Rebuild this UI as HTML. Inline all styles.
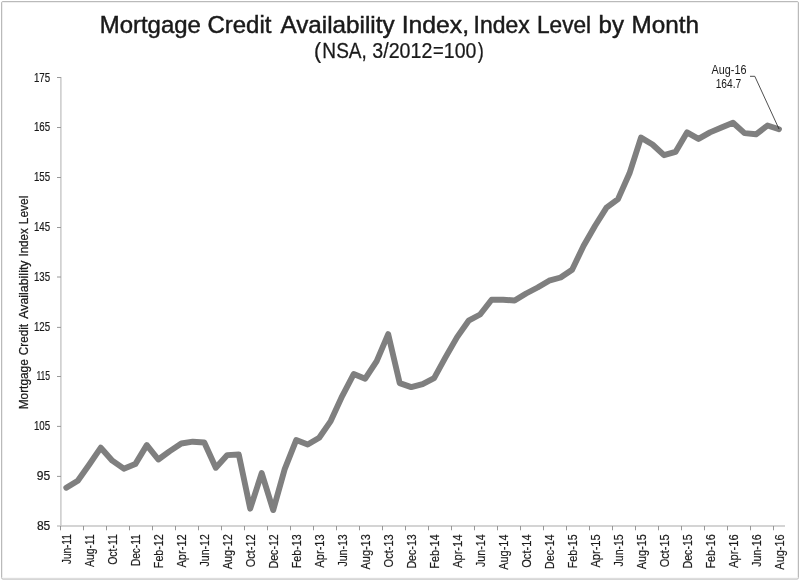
<!DOCTYPE html>
<html><head><meta charset="utf-8"><title>Mortgage Credit Availability Index</title>
<style>
html,body{margin:0;padding:0;background:#fff;}
svg{display:block;font-family:"Liberation Sans",sans-serif;}
</style></head><body>
<svg width="800" height="581" viewBox="0 0 800 581">
<rect x="0" y="0" width="800" height="581" fill="#fff"/>
<rect x="2.5" y="2.5" width="795" height="575.6" rx="1" fill="none" stroke="#efefef" stroke-width="1"/>
<rect x="1.5" y="1.5" width="797" height="577.6" rx="1.5" fill="none" stroke="#bababa" stroke-width="1"/>

<g font-size="23.7" fill="#1a1a1a" stroke="#1a1a1a" stroke-width="0.45">
<text transform="translate(99.68,32.5) scale(1.0118,1)">Mortgage</text>
<text transform="translate(207.40,32.5) scale(1.0134,1)">Credit</text>
<text transform="translate(280.50,32.5) scale(1.0239,1)">Availability</text>
<text transform="translate(401.67,32.5) scale(1.0440,1)">Index,</text>
<text transform="translate(473.54,32.5) scale(0.9675,1)">Index</text>
<text transform="translate(536.94,32.5) scale(0.9561,1)">Level</text>
<text transform="translate(598.55,32.5) scale(1.0166,1)">by</text>
<text transform="translate(631.46,32.5) scale(1.0252,1)">Month</text>
</g>
<g font-size="21.2" fill="#1a1a1a" stroke="#1a1a1a" stroke-width="0.25"><text transform="translate(314.01,58.0) scale(1.0133,1)">(</text><text transform="translate(322.37,58.0) scale(0.8993,1)">NSA,</text> <text transform="translate(372.31,58.0) scale(0.9268,1)">3/2012</text><text transform="translate(433.07,58.0) scale(0.8664,1)">=</text><text transform="translate(443.84,58.0) scale(0.9208,1)">100</text><text transform="translate(477.71,58.0) scale(0.8560,1)">)</text></g>
<g stroke="#c6c6c6" stroke-width="1.4" fill="none">
<line x1="60.9" y1="77" x2="60.9" y2="526.7"/>
<line x1="57" y1="526.0" x2="785.0" y2="526.0"/>
</g>
<g stroke="#8c8c8c" stroke-width="0.9" fill="none">
<line x1="57" y1="77.50" x2="60.9" y2="77.50"/>
<line x1="57" y1="127.50" x2="60.9" y2="127.50"/>
<line x1="57" y1="177.50" x2="60.9" y2="177.50"/>
<line x1="57" y1="227.50" x2="60.9" y2="227.50"/>
<line x1="57" y1="277.00" x2="60.9" y2="277.00"/>
<line x1="57" y1="327.40" x2="60.9" y2="327.40"/>
<line x1="57" y1="376.50" x2="60.9" y2="376.50"/>
<line x1="57" y1="426.40" x2="60.9" y2="426.40"/>
<line x1="57" y1="476.40" x2="60.9" y2="476.40"/>
<line x1="60.50" y1="526.0" x2="60.50" y2="530.3"/>
<line x1="83.50" y1="526.0" x2="83.50" y2="530.3"/>
<line x1="106.50" y1="526.0" x2="106.50" y2="530.3"/>
<line x1="129.50" y1="526.0" x2="129.50" y2="530.3"/>
<line x1="152.50" y1="526.0" x2="152.50" y2="530.3"/>
<line x1="175.50" y1="526.0" x2="175.50" y2="530.3"/>
<line x1="198.50" y1="526.0" x2="198.50" y2="530.3"/>
<line x1="221.50" y1="526.0" x2="221.50" y2="530.3"/>
<line x1="244.50" y1="526.0" x2="244.50" y2="530.3"/>
<line x1="267.50" y1="526.0" x2="267.50" y2="530.3"/>
<line x1="290.50" y1="526.0" x2="290.50" y2="530.3"/>
<line x1="313.50" y1="526.0" x2="313.50" y2="530.3"/>
<line x1="336.50" y1="526.0" x2="336.50" y2="530.3"/>
<line x1="359.50" y1="526.0" x2="359.50" y2="530.3"/>
<line x1="382.50" y1="526.0" x2="382.50" y2="530.3"/>
<line x1="405.50" y1="526.0" x2="405.50" y2="530.3"/>
<line x1="428.50" y1="526.0" x2="428.50" y2="530.3"/>
<line x1="451.50" y1="526.0" x2="451.50" y2="530.3"/>
<line x1="474.50" y1="526.0" x2="474.50" y2="530.3"/>
<line x1="497.50" y1="526.0" x2="497.50" y2="530.3"/>
<line x1="520.50" y1="526.0" x2="520.50" y2="530.3"/>
<line x1="543.50" y1="526.0" x2="543.50" y2="530.3"/>
<line x1="566.50" y1="526.0" x2="566.50" y2="530.3"/>
<line x1="589.50" y1="526.0" x2="589.50" y2="530.3"/>
<line x1="612.50" y1="526.0" x2="612.50" y2="530.3"/>
<line x1="635.50" y1="526.0" x2="635.50" y2="530.3"/>
<line x1="658.50" y1="526.0" x2="658.50" y2="530.3"/>
<line x1="681.50" y1="526.0" x2="681.50" y2="530.3"/>
<line x1="704.50" y1="526.0" x2="704.50" y2="530.3"/>
<line x1="727.50" y1="526.0" x2="727.50" y2="530.3"/>
<line x1="750.50" y1="526.0" x2="750.50" y2="530.3"/>
<line x1="773.50" y1="526.0" x2="773.50" y2="530.3"/>
</g>
<g font-size="12.5" fill="#1a1a1a" stroke="#1a1a1a" stroke-width="0.2">
<text transform="translate(33.97,81.50) scale(0.7782,1)">175</text>
<text transform="translate(33.97,131.30) scale(0.7782,1)">165</text>
<text transform="translate(33.97,181.10) scale(0.7782,1)">155</text>
<text transform="translate(33.97,230.90) scale(0.7782,1)">145</text>
<text transform="translate(33.97,280.70) scale(0.7782,1)">135</text>
<text transform="translate(33.97,330.50) scale(0.7782,1)">125</text>
<text transform="translate(36.46,380.30) scale(0.6874,1)">115</text>
<text transform="translate(33.97,430.10) scale(0.7782,1)">105</text>
<text transform="translate(36.86,479.90) scale(0.9667,1)">95</text>
<text transform="translate(36.92,529.70) scale(0.9620,1)">85</text>
</g>
<g font-size="12.5" fill="#1a1a1a" stroke="#1a1a1a" stroke-width="0.25" transform="translate(27.6,408.5) rotate(-90)">
<text transform="translate(-0.75,0) scale(0.9475,1)">Mortgage</text>
<text transform="translate(53.37,0) scale(0.9347,1)">Credit</text>
<text transform="translate(89.70,0) scale(0.9928,1)">Availability</text>
<text transform="translate(151.96,0) scale(0.9240,1)">Index</text>
<text transform="translate(184.24,0) scale(0.9571,1)">Level</text>
</g>
<g font-size="12.5" fill="#1a1a1a" stroke="#1a1a1a" stroke-width="0.2">
<text transform="translate(70.95,563.90) rotate(-90) translate(-0.15,0) scale(0.7994,1)">Jun-11</text>
<text transform="translate(93.93,566.90) rotate(-90) translate(0.00,0) scale(0.8298,1)">Aug-11</text>
<text transform="translate(116.92,564.40) rotate(-90) translate(-0.47,0) scale(0.8379,1)">Oct-11</text>
<text transform="translate(139.91,565.20) rotate(-90) translate(-0.81,0) scale(0.8071,1)">Dec-11</text>
<text transform="translate(162.90,567.30) rotate(-90) translate(-0.86,0) scale(0.8572,1)">Feb-12</text>
<text transform="translate(185.88,567.60) rotate(-90) translate(0.00,0) scale(0.8906,1)">Apr-12</text>
<text transform="translate(208.87,566.30) rotate(-90) translate(-0.16,0) scale(0.8437,1)">Jun-12</text>
<text transform="translate(231.86,569.30) rotate(-90) translate(0.00,0) scale(0.8709,1)">Aug-12</text>
<text transform="translate(254.85,566.80) rotate(-90) translate(-0.50,0) scale(0.8825,1)">Oct-12</text>
<text transform="translate(277.83,567.60) rotate(-90) translate(-0.85,0) scale(0.8497,1)">Dec-12</text>
<text transform="translate(300.82,567.40) rotate(-90) translate(-0.86,0) scale(0.8585,1)">Feb-13</text>
<text transform="translate(323.81,567.70) rotate(-90) translate(0.00,0) scale(0.8918,1)">Apr-13</text>
<text transform="translate(346.79,566.40) rotate(-90) translate(-0.16,0) scale(0.8449,1)">Jun-13</text>
<text transform="translate(369.78,569.40) rotate(-90) translate(0.00,0) scale(0.8720,1)">Aug-13</text>
<text transform="translate(392.77,566.90) rotate(-90) translate(-0.50,0) scale(0.8838,1)">Oct-13</text>
<text transform="translate(415.76,567.70) rotate(-90) translate(-0.85,0) scale(0.8509,1)">Dec-13</text>
<text transform="translate(438.74,567.80) rotate(-90) translate(-0.86,0) scale(0.8647,1)">Feb-14</text>
<text transform="translate(461.73,568.10) rotate(-90) translate(0.00,0) scale(0.8981,1)">Apr-14</text>
<text transform="translate(484.72,566.80) rotate(-90) translate(-0.16,0) scale(0.8513,1)">Jun-14</text>
<text transform="translate(507.71,569.80) rotate(-90) translate(0.00,0) scale(0.8779,1)">Aug-14</text>
<text transform="translate(530.69,567.30) rotate(-90) translate(-0.50,0) scale(0.8902,1)">Oct-14</text>
<text transform="translate(553.68,568.10) rotate(-90) translate(-0.86,0) scale(0.8571,1)">Dec-14</text>
<text transform="translate(576.67,567.30) rotate(-90) translate(-0.86,0) scale(0.8558,1)">Feb-15</text>
<text transform="translate(599.65,567.60) rotate(-90) translate(0.00,0) scale(0.8891,1)">Apr-15</text>
<text transform="translate(622.64,566.30) rotate(-90) translate(-0.16,0) scale(0.8423,1)">Jun-15</text>
<text transform="translate(645.63,569.30) rotate(-90) translate(0.00,0) scale(0.8695,1)">Aug-15</text>
<text transform="translate(668.62,566.80) rotate(-90) translate(-0.50,0) scale(0.8810,1)">Oct-15</text>
<text transform="translate(691.60,567.60) rotate(-90) translate(-0.85,0) scale(0.8484,1)">Dec-15</text>
<text transform="translate(714.59,567.70) rotate(-90) translate(-0.87,0) scale(0.8663,1)">Feb-16</text>
<text transform="translate(737.58,568.00) rotate(-90) translate(0.00,0) scale(0.8999,1)">Apr-16</text>
<text transform="translate(760.57,566.70) rotate(-90) translate(-0.16,0) scale(0.8529,1)">Jun-16</text>
<text transform="translate(783.55,569.70) rotate(-90) translate(0.00,0) scale(0.8795,1)">Aug-16</text>
</g>
<polyline points="66.3,487.7 77.8,480.7 89.3,464.5 100.8,447.7 112.3,460.7 123.8,468.7 135.3,464.1 146.8,445.1 158.3,459.5 169.8,451.1 181.3,443.5 192.8,441.7 204.3,442.5 215.8,467.7 227.3,455.1 238.8,454.5 250.2,508.7 261.7,473.1 273.2,510.1 284.7,469.1 296.2,440.1 307.7,444.5 319.2,437.7 330.7,421.1 342.2,396.1 353.7,374.1 365.2,378.7 376.7,361.1 388.2,334.1 399.7,383.1 411.2,387.1 422.6,384.1 434.1,378.1 445.6,357.1 457.1,337.1 468.6,320.7 480.1,314.5 491.6,299.7 503.1,299.7 514.6,300.5 526.1,293.5 537.6,287.5 549.1,280.7 560.6,277.5 572.1,269.7 583.6,245.8 595.1,225.7 606.5,207.6 618.0,199.1 629.5,173.3 641.0,137.6 652.5,144.5 664.0,155.2 675.5,151.9 687.0,132.4 698.5,138.9 710.0,132.4 721.5,127.5 733.0,122.8 744.5,133.1 756.0,134.3 767.5,125.5 779.0,129.2" fill="none" stroke="#7f7f7f" stroke-width="5.9" stroke-linejoin="round" stroke-linecap="round"/>
<polyline points="750,76.3 754.8,76.3 779,129" fill="none" stroke="#222" stroke-width="0.8"/>
<g font-size="12.5" fill="#1a1a1a">
<text transform="translate(711.60,73.7) scale(0.8670,1)">Aug-16</text>
<text transform="translate(715.63,88.0) scale(0.8164,1)">164.7</text>
</g>
</svg></body></html>
